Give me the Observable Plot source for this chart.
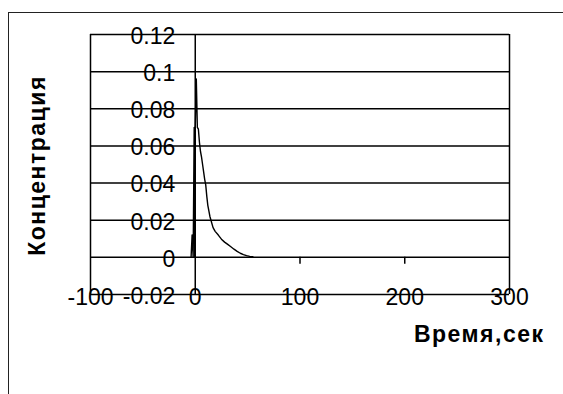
<!DOCTYPE html>
<html>
<head>
<meta charset="utf-8">
<script src="https://cdn.jsdelivr.net/npm/d3@7"></script>
<script src="https://cdn.jsdelivr.net/npm/@observablehq/plot@0.6"></script>
<style>
  html, body { margin: 0; padding: 0; background: #fff; overflow: hidden; }
  #wrap { position: relative; width: 563px; height: 394px; overflow: hidden; }
  #frame { position: absolute; left: 8px; top: 12px; width: 620px; height: 440px; border: 1.5px solid #222; box-sizing: border-box; }
  #chart { position: absolute; left: 0; top: 0; }
  .ttl text { letter-spacing: 1.5px; }
</style>
</head>
<body>
<div id="wrap"><div id="frame"></div><div id="chart"></div></div>
<script>
// Data
const time = [-4, -3, -2, -1, -0.5, 0, 1, 2, 3, 4, 5, 6, 7, 8, 9, 10, 11, 12, 13, 14, 15, 17, 19, 22, 25, 28, 31, 34, 37, 40, 43, 46, 49, 52, 55];
const conc = [0, 0.012, 0, 0.07, 0, 0.07, 0.096, 0.07, 0.069, 0.062, 0.057, 0.054, 0.05, 0.046, 0.042, 0.039, 0.033, 0.028, 0.025, 0.022, 0.02, 0.016, 0.014, 0.012, 0.0098, 0.0082, 0.007, 0.0057, 0.0044, 0.0032, 0.0022, 0.0015, 0.0009, 0.0005, 0.0003];

const xTicks = [-100, 0, 100, 200, 300];
const xTickLabels = ["-100", "0", "100", "200", "300"];
const yTicks = [-0.02, 0, 0.02, 0.04, 0.06, 0.08, 0.1, 0.12];
const yTickLabels = ["-0.02", "0", "0.02", "0.04", "0.06", "0.08", "0.1", "0.12"];
const minorXTicks = [100, 200];
const xTitle = "Время,сек";
const yTitle = "Концентрация";

const data = time.map((t, i) => ({t, c: conc[i]}));

const chart = Plot.plot({
  width: 563,
  height: 394,
  marginLeft: 90,
  marginRight: 54,
  marginTop: 34,
  marginBottom: 100,
  x: {domain: [-100, 300], axis: null},
  y: {domain: [-0.02, 0.12], axis: null},
  style: {fontFamily: "Arial, 'Liberation Sans', sans-serif", background: "transparent", color: "#000"},
  marks: [
    Plot.ruleY(yTicks, {stroke: "#000", strokeWidth: 1.5, strokeOpacity: 1}),
    Plot.ruleX([-100, 300], {stroke: "#000", strokeWidth: 1.5, strokeOpacity: 1}),
    Plot.ruleX(minorXTicks, {y1: 0, y2: 0, insetBottom: -7, stroke: "#000", strokeWidth: 1.5, strokeOpacity: 1}),
    Plot.line(data, {x: "t", y: "c", stroke: "#000", strokeWidth: 1.4}),
    Plot.ruleX([0], {stroke: "#000", strokeWidth: 1.5, strokeOpacity: 1}),
    Plot.text(yTicks, {x: 0, y: d => d, text: (d, i) => yTickLabels[i], textAnchor: "end", dx: -20, dy: 2, fontSize: 23, fill: "#000"}),
    Plot.text(xTicks, {x: d => d, y: -0.02, text: (d, i) => xTickLabels[i], dy: 3, fontSize: 23, fill: "#000"}),
    Plot.text([yTitle], {frameAnchor: "left", textAnchor: "middle", dx: -53, dy: 1, rotate: -90, fontSize: 23, fontWeight: "bold", fill: "#000", className: "ttl"}),
    Plot.text([xTitle], {frameAnchor: "bottom-right", textAnchor: "end", dx: 35, dy: 47, fontSize: 23, fontWeight: "bold", fill: "#000", className: "ttl"})
  ]
});
document.getElementById("chart").appendChild(chart);
</script>
</body>
</html>
